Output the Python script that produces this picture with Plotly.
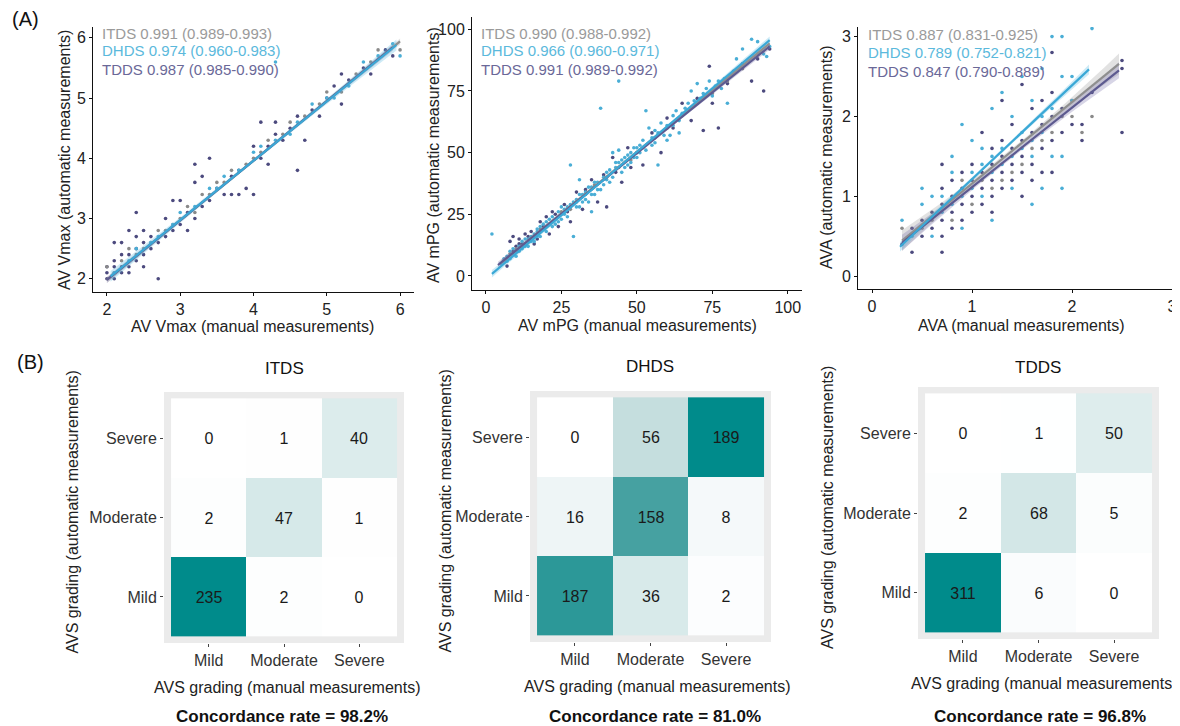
import numpy as np
import plotly.graph_objects as go

# page is rendered with the browser's default 8px body margin -> figure is sized to fit the window
OFF = 8
W, H = 1180 - OFF, 726 - OFF
FONT = "Liberation Sans, Arial, sans-serif"

# ---------------- DATA ----------------
series = ["ITDS", "DHDS", "TDDS"]
icc_vmax = ["0.991 (0.989-0.993)", "0.974 (0.960-0.983)", "0.987 (0.985-0.990)"]
icc_mpg = ["0.990 (0.988-0.992)", "0.966 (0.960-0.971)", "0.991 (0.989-0.992)"]
icc_ava = ["0.887 (0.831-0.925)", "0.789 (0.752-0.821)", "0.847 (0.790-0.889)"]

# AV Vmax (manual, automatic)
vmax_itds = [(2.0,2.2),(2.1,2.1),(2.2,2.3),(2.3,2.5),(2.4,2.4),(2.5,2.5),(2.6,2.6),(2.7,2.8),(2.8,2.8),
             (2.9,2.9),(3.0,3.0),(3.1,3.2),(3.2,3.1),(3.3,3.4),(3.4,3.4),(3.5,3.6),(3.6,3.6),(3.7,3.8),
             (3.9,3.9),(4.0,4.0),(4.1,4.1),(4.2,4.3),(4.4,4.4),(4.5,4.6),(4.7,4.7),(4.9,4.9),(5.0,5.1),
             (5.2,5.1),(5.4,5.4),(5.6,5.6),(5.7,5.8),(6.0,5.8)]
vmax_dhds = [(2.1,2.1),(2.3,2.3),(2.4,2.5),(2.6,2.6),(2.7,2.7),(2.9,2.9),(3.0,3.1),(3.2,3.2),(3.4,3.5),
             (3.5,3.5),(3.6,3.7),(3.8,3.8),(4.0,4.1),(4.1,4.2),(4.3,4.3),(4.3,5.6),(4.5,4.4),(4.6,4.6),
             (4.8,4.9),(5.0,5.0),(5.1,5.0),(5.3,5.2),(5.5,5.6),(5.7,5.7),(5.9,5.9),(6.0,5.7)]
vmax_tdds = [(2.0,2.0),(2.0,2.1),(2.0,2.2),(2.1,2.0),(2.1,2.2),(2.1,2.3),(2.1,2.6),(2.2,2.1),(2.2,2.2),
             (2.2,2.4),(2.2,2.6),(2.3,2.2),(2.3,2.4),(2.3,2.8),(2.3,2.1),(2.4,2.3),(2.4,2.5),(2.4,3.1),
             (2.4,2.7),(2.5,2.4),(2.5,2.6),(2.5,2.8),(2.5,2.2),(2.6,2.5),(2.6,2.7),(2.7,2.0),(2.7,2.6),
             (2.8,2.7),(2.8,3.0),(2.9,2.8),(2.9,3.3),(3.0,2.9),(3.0,3.3),(3.1,3.1),(3.1,2.8),(3.2,3.9),
             (3.2,3.6),(3.2,3.0),(3.3,3.2),(3.3,3.7),(3.4,4.0),(3.4,3.3),(3.5,3.5),(3.6,3.4),(3.7,3.4),
             (3.7,3.7),(3.8,3.4),(3.8,3.8),(3.9,3.5),(4.0,3.4),(4.0,4.2),(4.1,4.6),(4.1,4.0),(4.2,4.2),
             (4.2,3.9),(4.3,4.4),(4.3,4.6),(4.4,4.3),(4.5,4.5),(4.6,3.8),(4.6,4.7),(4.7,4.3),(4.8,4.8),
             (4.9,4.7),(5.0,5.0),(5.1,5.2),(5.2,5.4),(5.2,4.9),(5.3,5.3),(5.5,5.5),(5.6,5.4),(5.8,5.8),
             (5.9,5.7)]

# AV mPG (manual, automatic)
mpg_itds = [(6,6),(8,9),(10,11),(12,12),(14,14),(16,16),(18,19),(20,20),(22,22),(25,26),(28,27),(30,30),
            (33,33),(36,37),(40,40),(44,44),(48,47),(52,52),(56,56),(60,60),(65,65),(70,70),(75,74),
            (80,79),(85,84),(90,90)]
mpg_dhds = [(2,17),(5,5),(6,6),(7,8),(8,7),(8,10),(9,9),(10,10),(10,8),(11,12),(12,11),(12,14),(13,13),
            (14,12),(14,15),(15,16),(16,14),(16,17),(17,18),(18,16),(18,20),(19,19),(20,18),(20,22),
            (21,21),(22,20),(22,24),(23,23),(24,22),(24,26),(25,25),(26,27),(27,24),(28,29),(28,45),
            (29,16),(30,31),(31,28),(32,33),(33,34),(34,30),(35,36),(36,33),(37,38),(38,35),(38,68),
            (39,40),(40,42),(41,38),(42,50),(43,44),(44,79),(44,46),(45,42),(46,48),(47,45),(48,50),
            (49,52),(50,48),(51,50),(52,55),(53,67),(54,60),(55,56),(56,54),(57,58),(58,62),(60,61),
            (61,57),(62,65),(63,67),(64,63),(66,68),(67,70),(68,75),(70,78),(72,74),(74,79),(76,77),
            (78,76),(80,70),(83,88),(85,92),(88,96),(90,95),(92,90),(93,89),(94,93),
            (6,7),(7,6),(9,11),(11,10),(13,12),(13,15),(15,14),(17,16),(17,19),(19,21),(21,23),(23,21),
            (25,23),(25,28),(26,25),(27,28),(29,30),(30,28),(31,33),(32,30),(33,31),(34,36),(35,33),
            (36,38),(37,35),(39,37),(40,39),(41,43),(42,40),(43,46),(45,47),(46,44),(47,49),(48,46),
            (49,48),(50,52),(51,53),(53,51),(55,53),(56,59),(59,57),(62,61),(65,66),(69,71),(71,72),
            (73,76),(75,73),(77,79),(79,80),(57,45),(60,55),(64,58),(35,26),(31,39),(44,51)]
mpg_tdds = [(7,4),(8,14),(9,16),(10,12),(11,15),(12,13),(13,17),(15,18),(16,13),(18,22),(20,24),(21,17),
            (22,26),(24,20),(26,29),(28,22),(30,34),(32,27),(35,39),(37,30),(40,28),(42,48),(45,38),
            (47,52),(48,44),(50,50),(52,45),(55,58),(58,50),(60,64),(62,60),(65,70),(68,63),(70,72),
            (72,59),(74,85),(75,70),(77,60),(80,78),(82,83),(85,86),(88,79),(90,88),(92,75),(94,92),
            (9,10),(11,13),(14,16),(17,15),(19,20),(23,25),(27,26),(33,35),(39,41),(43,42)]

# AVA (manual, automatic)
ava_itds = [(0.3,0.6),(0.5,0.6),(0.6,0.7),(0.8,0.7),(0.9,1.2),(1.0,0.9),(1.1,1.2),(1.2,1.1),(1.3,1.2),
            (1.4,1.3),(1.5,1.4),(1.6,1.6),(1.7,1.7),(1.8,1.8),(1.9,2.0),(2.0,2.0),(2.1,1.8),(2.2,2.0)]
ava_dhds = [(0.3,0.7),(0.4,0.5),(0.5,0.9),(0.5,1.1),(0.6,0.5),(0.6,1.0),(0.7,0.8),(0.7,1.0),(0.8,0.9),
            (0.8,1.3),(0.8,1.5),(0.9,0.6),(0.9,1.0),(0.9,1.9),(1.0,1.1),(1.0,1.3),(1.0,1.7),(1.1,1.0),
            (1.1,1.4),(1.1,1.6),(1.2,0.7),(1.2,1.3),(1.2,1.5),(1.2,2.1),(1.3,1.4),(1.3,1.6),(1.3,2.3),
            (1.4,1.1),(1.4,1.5),(1.4,2.0),(1.5,1.6),(1.5,1.8),(1.5,2.5),(1.6,0.9),(1.6,1.5),(1.6,1.7),
            (1.6,2.2),(1.7,1.1),(1.7,1.8),(1.7,2.0),(1.7,2.6),(1.8,1.5),(1.8,2.1),(1.8,3.0),(1.9,1.1),
            (1.9,1.5),(1.9,2.5),(1.9,3.0),(2.0,2.2),(2.0,2.5),(2.2,3.1)]
ava_tdds = [(0.3,0.4),(0.4,0.3),(0.4,0.6),(0.5,0.5),(0.5,0.7),(0.6,0.6),(0.6,0.8),(0.7,0.3),(0.7,0.5),
            (0.7,0.7),(0.7,0.9),(0.7,1.1),(0.7,1.4),(0.8,0.6),(0.8,0.8),(0.8,1.0),(0.8,1.2),(0.9,0.7),
            (0.9,0.9),(0.9,1.1),(0.9,1.3),(1.0,0.8),(1.0,1.0),(1.0,1.2),(1.0,1.4),(1.1,0.9),(1.1,1.1),
            (1.1,1.3),(1.1,1.8),(1.2,0.8),(1.2,1.0),(1.2,1.2),(1.2,1.4),(1.2,1.6),(1.3,1.1),(1.3,1.3),
            (1.3,1.5),(1.3,1.7),(1.3,2.2),(1.4,1.2),(1.4,1.4),(1.4,1.6),(1.4,1.9),(1.5,1.0),(1.5,1.3),
            (1.5,1.5),(1.5,1.7),(1.5,2.4),(1.6,1.2),(1.6,1.4),(1.6,1.8),(1.6,2.1),(1.7,1.3),(1.7,1.6),
            (1.7,1.9),(1.7,2.2),(1.8,1.3),(1.8,1.7),(1.8,2.0),(1.8,2.3),(1.8,2.8),(1.9,1.8),(1.9,2.1),
            (2.0,1.9),(2.0,2.2),(2.1,1.7),(2.1,1.9),(2.2,2.3),(2.5,1.8),(2.5,2.6),(2.5,2.7)]

# regression fits: (intercept, slope, x_start, x_end, ci_halfwidth_mid, ci_halfwidth_end)
fit_vmax = {"ITDS": (0.00, 0.990, 2.00, 6.00, 0.02, 0.05),
            "DHDS": (0.02, 0.985, 2.05, 5.95, 0.03, 0.09),
            "TDDS": (0.00, 0.990, 2.00, 5.90, 0.02, 0.05)}
fit_mpg = {"ITDS": (0.3, 1.000, 5.0, 94.0, 0.4, 1.2),
           "DHDS": (-1.2, 1.030, 2.0, 94.0, 0.4, 1.5),
           "TDDS": (0.5, 0.985, 4.0, 94.0, 0.4, 1.3)}
fit_ava = {"ITDS": (0.14, 1.020, 0.30, 2.47, 0.03, 0.13),
           "DHDS": (0.04, 1.175, 0.28, 2.17, 0.02, 0.06),
           "TDDS": (0.12, 0.995, 0.30, 2.47, 0.03, 0.10)}

# AVS grading confusion matrices (rows: automatic Mild/Moderate/Severe, cols: manual Mild/Moderate/Severe)
grades = ["Mild", "Moderate", "Severe"]
cm_itds = [[235, 2, 0], [2, 47, 1], [0, 1, 40]]
cm_dhds = [[187, 36, 2], [16, 158, 8], [0, 56, 189]]
cm_tdds = [[311, 6, 0], [2, 68, 5], [0, 1, 50]]
concordance = ["98.2%", "81.0%", "96.8%"]

# ---------------- STYLE ----------------
pt_col = {"ITDS": "#8a8a8a", "DHDS": "#4aaed6", "TDDS": "#4c4a7e"}
ln_col = {"ITDS": "#8f8f8f", "DHDS": "#3aa8d6", "TDDS": "#5d5a90"}
band_col = {"ITDS": "rgba(150,150,150,0.28)", "DHDS": "rgba(90,185,225,0.30)", "TDDS": "rgba(110,105,165,0.28)"}
txt_col = {"ITDS": "#9a9a9a", "DHDS": "#5bb9dc", "TDDS": "#6a6898"}
TICK = 16
TITLE = 16


def px(x):
    # page pixel -> paper fraction
    return (x - OFF) / W


def py(y):
    return 1 - (y - OFF) / H


fig = go.Figure()
annotations = []
shapes = []

scatter_panels = [
    dict(idx=1, data={"ITDS": vmax_itds, "DHDS": vmax_dhds, "TDDS": vmax_tdds}, fits=fit_vmax, icc=icc_vmax,
         dom_x=(93, 414), dom_y=(27, 292), rx=(1.81, 6.19), ry=(1.78, 6.18), ticks=[2, 3, 4, 5, 6],
         xt="AV Vmax (manual measurements)", yt="AV Vmax (automatic measurements)",
         xt_pos=(252, 326), yt_pos=(64, 160), lab_pos=(100, 33)),
    dict(idx=2, data={"ITDS": mpg_itds, "DHDS": mpg_dhds, "TDDS": mpg_tdds}, fits=fit_mpg, icc=icc_mpg,
         dom_x=(472, 802), dom_y=(17, 290), rx=(-4.6, 104.7), ry=(-5.7, 105), ticks=[0, 25, 50, 75, 100],
         xt="AV mPG (manual measurements)", yt="AV mPG (automatic measurements)",
         xt_pos=(637, 325), yt_pos=(433, 155), lab_pos=(479, 33)),
    dict(idx=3, data={"ITDS": ava_itds, "DHDS": ava_dhds, "TDDS": ava_tdds}, fits=fit_ava, icc=icc_ava,
         dom_x=(858, 1180), dom_y=(27, 289), rx=(-0.14, 3.08), ry=(-0.16, 3.12), ticks=[0, 1, 2, 3],
         xt="AVA (manual measurements)", yt="AVA (automatic measurements)",
         xt_pos=(1021, 325), yt_pos=(827, 157), lab_pos=(866, 35)),
]

layout_axes = {}
for p in scatter_panels:
    i = p["idx"]
    xa, ya = f"x{i}" if i > 1 else "x", f"y{i}" if i > 1 else "y"
    for s in ["TDDS", "ITDS", "DHDS"]:
        pts = p["data"][s]
        fig.add_trace(go.Scatter(x=[a for a, b in pts], y=[b for a, b in pts], mode="markers",
                                 marker=dict(size=3.6, color=pt_col[s], line=dict(width=0)),
                                 xaxis=xa, yaxis=ya, showlegend=False, hoverinfo="skip"))
    for s in ["ITDS", "TDDS", "DHDS"]:
        a, b, x0, x1, hm, he = p["fits"][s]
        xs = np.linspace(x0, x1, 60)
        ys = a + b * xs
        xm, hr = (x0 + x1) / 2, (x1 - x0) / 2
        hw = hm + (he - hm) * ((xs - xm) / hr) ** 2
        fig.add_trace(go.Scatter(x=np.concatenate([xs, xs[::-1]]), y=np.concatenate([ys + hw, (ys - hw)[::-1]]),
                                 fill="toself", fillcolor=band_col[s], line=dict(width=0), mode="lines",
                                 xaxis=xa, yaxis=ya, showlegend=False, hoverinfo="skip"))
    for s in ["ITDS", "TDDS", "DHDS"]:
        a, b, x0, x1, hm, he = p["fits"][s]
        xs = np.array([x0, x1])
        fig.add_trace(go.Scatter(x=xs, y=a + b * xs, mode="lines", line=dict(color=ln_col[s], width=2.2),
                                 xaxis=xa, yaxis=ya, showlegend=False, hoverinfo="skip"))
    common = dict(showline=True, linecolor="#111", linewidth=1, ticks="outside", ticklen=3, tickcolor="#111",
                  showgrid=False, zeroline=False, tickfont=dict(size=TICK, color="#222", family=FONT),
                  tickvals=p["ticks"], fixedrange=True, ticklabeloverflow="allow")
    layout_axes["xaxis" + (str(i) if i > 1 else "")] = dict(
        common, domain=[px(p["dom_x"][0]), min(1.0, px(p["dom_x"][1]))], range=list(p["rx"]), anchor=ya)
    layout_axes["yaxis" + (str(i) if i > 1 else "")] = dict(
        common, domain=[py(p["dom_y"][1]), py(p["dom_y"][0])], range=list(p["ry"]), anchor=xa)
    annotations.append(dict(text=p["xt"], x=px(p["xt_pos"][0]), y=py(p["xt_pos"][1]), xref="paper", yref="paper",
                            showarrow=False, font=dict(size=TITLE, color="#222", family=FONT),
                            xanchor="center", yanchor="middle"))
    annotations.append(dict(text=p["yt"], x=px(p["yt_pos"][0]), y=py(p["yt_pos"][1]), xref="paper", yref="paper",
                            showarrow=False, textangle=-90, font=dict(size=TITLE, color="#222", family=FONT),
                            xanchor="center", yanchor="middle"))
    for k, s in enumerate(series):
        annotations.append(dict(text=f"{s} {p['icc'][k]}", x=px(p["lab_pos"][0]), y=py(p["lab_pos"][1] + 18 * k),
                                xref="paper", yref="paper", showarrow=False, xanchor="left", yanchor="middle",
                                font=dict(size=15, color=txt_col[s], family=FONT)))

colorscale = [[0.0, "#ffffff"], [0.04, "#f5f9fa"], [0.09, "#edf4f5"], [0.2, "#d6e9e9"], [0.3, "#c4dede"],
              [0.84, "#45a1a1"], [0.985, "#3e9e9e"], [1.0, "#008b8b"]]

heat_panels = [
    dict(idx=4, cm=cm_itds, name="ITDS", dom_x=(164, 404), dom_y=(392, 643), title_pos=(284, 368),
         yt_x=72, xt_pos=(287, 687), conc_pos=(282, 716), conc=concordance[0]),
    dict(idx=5, cm=cm_dhds, name="DHDS", dom_x=(530, 771), dom_y=(391, 642), title_pos=(650, 366),
         yt_x=445, xt_pos=(657, 686), conc_pos=(655, 716), conc=concordance[1]),
    dict(idx=6, cm=cm_tdds, name="TDDS", dom_x=(918, 1159), dom_y=(387, 639), title_pos=(1038, 367),
         yt_x=827, xt_pos=(1044, 683), conc_pos=(1040, 716), conc=concordance[2]),
]

for p in heat_panels:
    i = p["idx"]
    xa, ya = f"x{i}", f"y{i}"
    zmax = max(max(r) for r in p["cm"])
    fig.add_trace(go.Heatmap(z=p["cm"], x=grades, y=grades, colorscale=colorscale, zmin=0, zmax=zmax,
                             showscale=False, texttemplate="%{z}", xgap=0, ygap=0,
                             textfont=dict(size=16, color="#1a1a1a", family=FONT),
                             xaxis=xa, yaxis=ya, hoverinfo="skip"))
    common = dict(showline=False, ticks="outside", ticklen=3, tickcolor="#444", showgrid=False, zeroline=False,
                  tickfont=dict(size=16, color="#333", family=FONT), fixedrange=True, type="category")
    layout_axes[f"xaxis{i}"] = dict(common, domain=[px(p["dom_x"][0]), px(p["dom_x"][1])],
                                    range=[-0.593, 2.593], anchor=ya)
    layout_axes[f"yaxis{i}"] = dict(common, domain=[py(p["dom_y"][1]), py(p["dom_y"][0])],
                                    range=[-0.58, 2.58], anchor=xa)
    shapes.append(dict(type="rect", xref=f"{xa} domain", yref=f"{ya} domain", x0=0, x1=1, y0=0, y1=1,
                       fillcolor="#ebebeb", line=dict(width=0), layer="below"))
    annotations.append(dict(text=p["name"], x=px(p["title_pos"][0]), y=py(p["title_pos"][1]), xref="paper",
                            yref="paper", showarrow=False, font=dict(size=17, color="#111", family=FONT),
                            xanchor="center", yanchor="middle"))
    annotations.append(dict(text="AVS grading (automatic measurements)", x=px(p["yt_x"]),
                            y=py((p["dom_y"][0] + p["dom_y"][1]) / 2 - 5), xref="paper", yref="paper",
                            showarrow=False, textangle=-90, font=dict(size=16, color="#222", family=FONT),
                            xanchor="center", yanchor="middle"))
    annotations.append(dict(text="AVS grading (manual measurements)", x=px(p["xt_pos"][0]), y=py(p["xt_pos"][1]),
                            xref="paper", yref="paper", showarrow=False,
                            font=dict(size=16, color="#222", family=FONT), xanchor="center", yanchor="middle"))
    annotations.append(dict(text=f"<b>Concordance rate = {p['conc']}</b>", x=px(p["conc_pos"][0]),
                            y=py(p["conc_pos"][1]), xref="paper", yref="paper", showarrow=False, borderpad=0,
                            font=dict(size=17, color="#111", family=FONT), xanchor="center", yanchor="middle"))

annotations.append(dict(text="(A)", x=px(10), y=py(19), xref="paper", yref="paper", showarrow=False,
                        xanchor="left", yanchor="middle", font=dict(size=20, color="#111", family=FONT)))
annotations.append(dict(text="(B)", x=px(15), y=py(362), xref="paper", yref="paper", showarrow=False,
                        xanchor="left", yanchor="middle", font=dict(size=20, color="#111", family=FONT)))

fig.update_layout(width=W, height=H, margin=dict(l=0, r=0, t=0, b=0), paper_bgcolor="white",
                  plot_bgcolor="rgba(0,0,0,0)", showlegend=False, annotations=annotations, shapes=shapes,
                  font=dict(family=FONT), **layout_axes)

fig.write_html("out.html")
